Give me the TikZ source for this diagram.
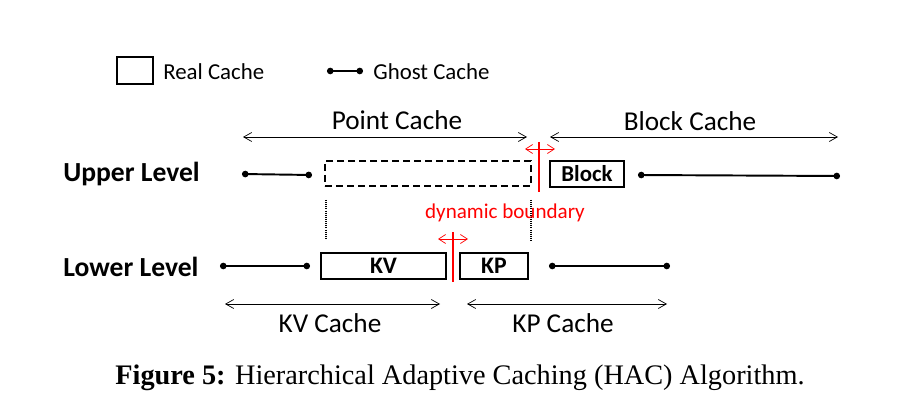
\documentclass[tikz,border=0pt]{standalone}
\usepackage{fontspec}
\setmainfont{Carlito}
\newfontfamily\capfont{Liberation Serif}
\usetikzlibrary{arrows.meta}

\begin{document}
\begin{tikzpicture}[x=0.02cm,y=-0.02cm,
  span/.style={thin,{Straight Barb[length=1.6mm,width=1.8mm]}-{Straight Barb[length=1.6mm,width=1.8mm]}},
  ghost/.style={line width=1.1pt,{Circle[length=1.3mm]}-{Circle[length=1.3mm]}},
  realbox/.style={draw,line width=1.2pt,inner sep=0pt,minimum height=0.52cm},
  boxtxt/.style={font=\fontsize{13.5}{16}\selectfont\bfseries},
  bound/.style={red,line width=1.6pt},
  boundarr/.style={red,thin,{Straight Barb[length=1.4mm,width=1.8mm]}-{Straight Barb[length=1.4mm,width=1.8mm]}},
  lvl/.style={font=\fontsize{15.7}{18}\selectfont\bfseries,anchor=west,inner sep=0pt},
  lab/.style={font=\fontsize{15.5}{18}\selectfont,inner sep=0pt},
  legtxt/.style={anchor=west,font=\fontsize{13}{15}\selectfont,inner sep=0pt},
  dots/.style={line width=1.2pt,dash pattern=on 0.6pt off 0.6pt}]
\useasboundingbox (0,0) rectangle (918,418);

% legend
\node[realbox,minimum width=0.72cm,minimum height=0.54cm] (legreal) at (135,70.5) {};
\node[legtxt] (legrealtxt) at (163,72) {Real Cache};
\coordinate (legg1) at (327,71);
\coordinate (legg2) at (363,71);
\draw[ghost] (legg1) -- (legg2);
\node[legtxt] (legghosttxt) at (373,72) {Ghost Cache};

% span arrows
\coordinate (pc1) at (243,137);
\coordinate (pc2) at (527,137);
\coordinate (bc1) at (550,137);
\coordinate (bc2) at (838,137);
\draw[span] (pc1) -- (pc2);
\draw[span] (bc1) -- (bc2);
\node[lab] (pclab) at (397,120) {Point Cache};
\node[lab] (bclab) at (690,121) {Block Cache};

\coordinate (kv1) at (225,304);
\coordinate (kv2) at (440,304);
\coordinate (kp1) at (467,304);
\coordinate (kp2) at (667,304);
\draw[span] (kv1) -- (kv2);
\draw[span] (kp1) -- (kp2);
\node[lab] (kvlab) at (330,323) {KV Cache};
\node[lab] (kplab) at (563,323) {KP Cache};

% upper level
\node[lvl] (upper) at (63,174) {Upper Level};
\coordinate (ug1) at (242,174);
\coordinate (ug2) at (312,175);
\draw[ghost] (ug1) -- (ug2);
\node[realbox,dashed,dash pattern=on 1.4mm off 0.8mm,minimum width=4.12cm,minimum height=0.5cm] (point) at (428,173.5) {};
\node[realbox,boxtxt,font=\fontsize{13}{15}\selectfont\bfseries,minimum width=1.48cm] (block) at (587,174) {Block};
\coordinate (ug3) at (638,175);
\coordinate (ug4) at (840,176);
\draw[ghost] (ug3) -- (ug4);

% lower level
\node[lvl] (lower) at (63,267) {Lower Level};
\coordinate (lg1) at (220,266);
\coordinate (lg2) at (310,266);
\draw[ghost] (lg1) -- (lg2);
\node[realbox,boxtxt,minimum width=2.5cm] (kv) at (383.5,266) {KV};
\node[realbox,boxtxt,minimum width=1.36cm] (kp) at (494,266) {KP};
\coordinate (lg3) at (549,266);
\coordinate (lg4) at (670,266);
\draw[ghost] (lg3) -- (lg4);

% dotted links
\draw[dots] (326,200) -- (326,238);
\draw[dots] (531,200) -- (531,242);

% dynamic boundaries
\coordinate (ub1) at (539,142);
\coordinate (ub2) at (539,192);
\draw[bound] (ub1) -- (ub2);
\coordinate (ua1) at (525,149);
\coordinate (ua2) at (555,149);
\draw[boundarr] (ua1) -- (ua2);
\coordinate (lb1) at (453,232);
\coordinate (lb2) at (453,282);
\draw[bound] (lb1) -- (lb2);
\coordinate (la1) at (438,239);
\coordinate (la2) at (468,239);
\draw[boundarr] (la1) -- (la2);
\node[red,font=\fontsize{12}{14}\selectfont,inner sep=0pt] (dyn) at (505,213) {dynamic boundary};

% caption
\node[font=\capfont\fontsize{16.1}{19}\selectfont,inner sep=0pt] (cap) at (460,378) {\textbf{Figure 5:} Hierarchical Adaptive Caching (HAC) Algorithm.};
\end{tikzpicture}
\end{document}
